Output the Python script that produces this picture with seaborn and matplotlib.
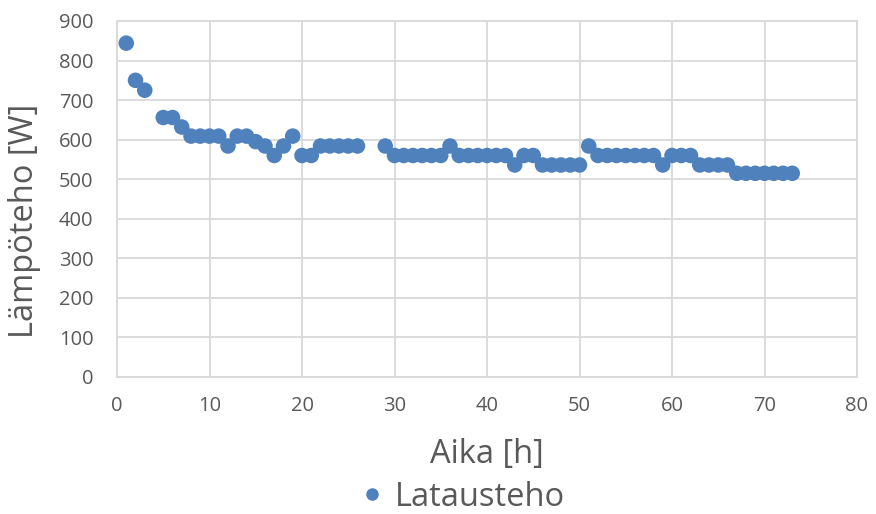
import matplotlib
matplotlib.use("Agg")
import matplotlib.pyplot as plt
import seaborn as sns
import pandas as pd

hours = [1, 2, 3, 5, 6, 7, 8, 9, 10, 11, 12, 13, 14, 15, 16, 17, 18, 19, 20, 21,
         22, 23, 24, 25, 26, 29, 30, 31, 32, 33, 34, 35, 36, 37, 38, 39, 40, 41, 42,
         43, 44, 45, 46, 47, 48, 49, 50, 51, 52, 53, 54, 55, 56, 57, 58, 59, 60, 61,
         62, 63, 64, 65, 66, 67, 68, 69, 70, 71, 72, 73]
power = [844, 750, 725, 656, 656, 632, 609, 609, 609, 609, 584, 609, 609, 595, 584,
         560, 584, 609, 560, 560,
         584, 584, 584, 584, 584, 584, 560, 560, 560, 560, 560, 560, 584, 560, 560,
         560, 560, 560, 560,
         536, 560, 560, 536, 536, 536, 536, 536, 584, 560, 560, 560, 560, 560, 560,
         560, 536, 560, 560,
         560, 536, 536, 536, 536, 515, 515, 515, 515, 515, 515, 515]
series_name = "Latausteho"
x_label = "Aika [h]"
y_label = "Lämpöteho [W]"
x_ticks = [0, 10, 20, 30, 40, 50, 60, 70, 80]
y_ticks = [0, 100, 200, 300, 400, 500, 600, 700, 800, 900]

sns.set_theme(style="white")
plt.rcParams["font.family"] = ["Open Sans", "DejaVu Sans"]

df = pd.DataFrame({"x": hours, "y": power, "s": series_name})

fig = plt.figure(figsize=(8.76, 5.14), dpi=100)
ax = fig.add_axes([117 / 876, 1 - 377 / 514, (857 - 117) / 876, (377 - 21) / 514])

color = "#4f81bd"
sns.scatterplot(data=df, x="x", y="y", hue="s", palette=[color], s=125,
                edgecolor=color, linewidth=0, ax=ax, legend=False, zorder=3)

ax.set_xlim(0, 80)
ax.set_ylim(0, 900)
ax.set_xticks(x_ticks)
ax.set_yticks(y_ticks)
ax.grid(True, color="#d9d9d9", linewidth=1.3)
ax.set_axisbelow(True)
for sp in ax.spines.values():
    sp.set_color("#d9d9d9")
    sp.set_linewidth(1.3)
ax.tick_params(axis="both", length=0, labelsize=14.5, labelcolor="#595959")
ax.tick_params(axis="x", pad=14)
ax.tick_params(axis="y", pad=17)
ax.set_xlabel(x_label, fontsize=23.5, color="#595959")
ax.set_ylabel(y_label, fontsize=23.5, color="#595959")
ax.xaxis.label.set_va("center")
ax.xaxis.set_label_coords(0.5, (377 - 455) / 356)
ax.yaxis.label.set_va("center")
ax.yaxis.label.set_ha("center")
ax.yaxis.set_label_coords((25 - 117) / 740, (377 - 221) / 356)

handle = plt.Line2D([], [], marker="o", linestyle="", color=color, markersize=8)
fig.legend([handle], [series_name], loc="center", bbox_to_anchor=(460 / 876, 17 / 514),
           frameon=False, fontsize=23.5, labelcolor="#595959", handletextpad=0.2,
           borderaxespad=0, handlelength=1.0)

fig.savefig("out.png", dpi=100)
